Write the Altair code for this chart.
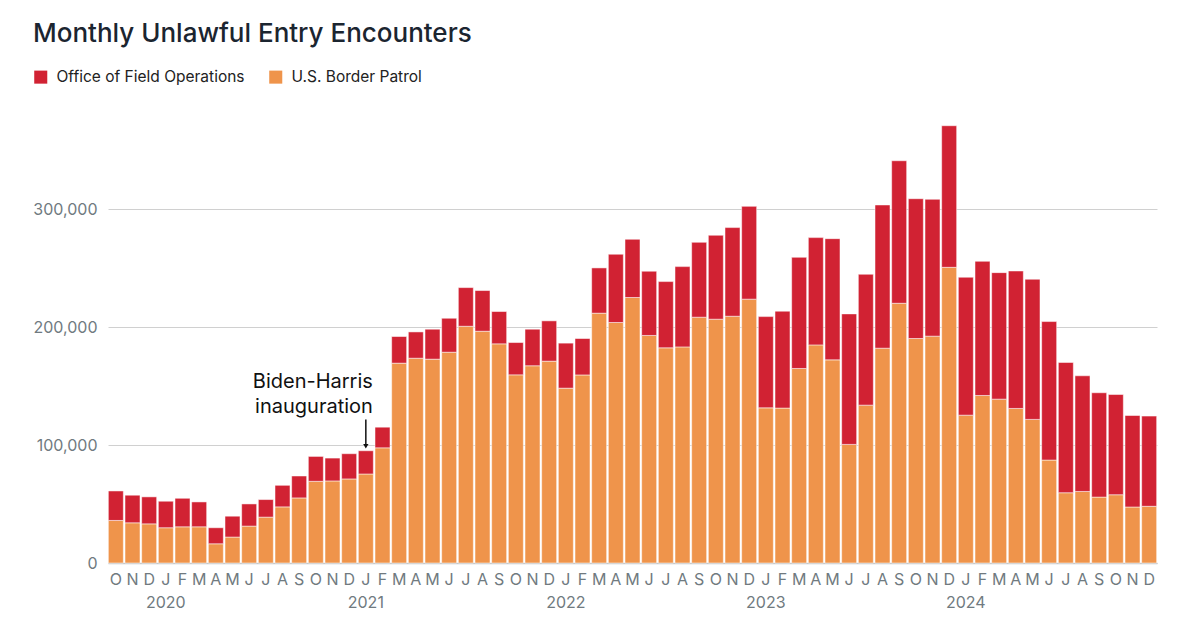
import pandas as pd
import altair as alt

# months Oct 2019 .. Dec 2024
months = [str(p) for p in pd.period_range('2019-10', '2024-12', freq='M')]

border_patrol = [
    36100, 34100, 33200, 29900, 30700, 30700, 16300, 22000, 31300, 38900, 47600, 55200,
    69300, 69600, 71300, 75500, 97700, 169500, 173700, 172900, 178800, 200800, 196600, 185900,
    159600, 167300, 171200, 148300, 159500, 211900, 204000, 225200, 193000, 182500, 183300, 208500,
    206800, 209300, 223800, 131600, 131400, 165000, 185000, 172300, 100600, 133900, 182200, 220300,
    190400, 192400, 250800, 125400, 142100, 139000, 131100, 121800, 87300, 59600, 60700, 55900,
    57900, 47500, 48100,
]
field_ops = [
    25000, 23400, 22900, 22500, 24200, 21100, 13600, 17700, 18800, 14900, 18300, 18600,
    21100, 19400, 21400, 19700, 17500, 22600, 22300, 25400, 28800, 32800, 34500, 27400,
    27400, 31000, 34200, 38200, 30900, 38400, 57900, 49400, 54500, 56200, 68100, 63500,
    71200, 75200, 78700, 77400, 82200, 94300, 91000, 102800, 110700, 111000, 121500, 120900,
    118600, 116100, 120100, 117000, 113800, 107300, 116600, 118900, 117500, 110500, 98100, 88500,
    85000, 77600, 76500,
]

series = ['Office of Field Operations', 'U.S. Border Patrol']
colors = ['#d12233', '#ef944b']

df = pd.concat([
    pd.DataFrame({'month': months, 'value': border_patrol, 'agency': series[1], 'ord': 0}),
    pd.DataFrame({'month': months, 'value': field_ops, 'agency': series[0], 'ord': 1}),
])

note = pd.DataFrame({'month': ['2021-01'], 'text_y': [148600], 'arrow_top': [121800], 'arrow_end': [99000]})

FONT = 'Inter'
GRAY = '#707a80'

month_label = ("[['J','F','M','A','M','J','J','A','S','O','N','D'][toNumber(slice(datum.value,5,7))-1], "
               "slice(datum.value,5,7)=='01' ? slice(datum.value,0,4) : '']")

x = alt.X('month:N', scale=alt.Scale(domain=months, paddingInner=0.1, paddingOuter=0.02),
          axis=alt.Axis(title=None, labelExpr=month_label, labelAngle=0, ticks=False,
                        labelFontSize=16, labelColor=GRAY, labelFont=FONT, labelPadding=8,
                        labelLineHeight=23, domainColor='#c8c8c8', domainWidth=1.5,
                        labelOverlap=False))

bars = alt.Chart(df).mark_bar(stroke='white', strokeWidth=1, strokeOpacity=0.5).encode(
    x=x,
    y=alt.Y('value:Q', stack='zero',
            scale=alt.Scale(domain=[0, 380000], nice=False),
            axis=alt.Axis(title=None, values=[0, 100000, 200000, 300000], format=',.0f',
                          ticks=False, domain=False, labelFontSize=16, labelColor=GRAY,
                          labelFont=FONT, labelPadding=11, gridColor='#d0d0d0')),
    color=alt.Color('agency:N', scale=alt.Scale(domain=series, range=colors),
                    legend=alt.Legend(title=None, orient='none', direction='horizontal',
                                      legendX=-75, legendY=-46, symbolType='square',
                                      symbolSize=170, symbolOpacity=1, symbolStrokeWidth=0,
                                      labelFontSize=15.5, labelFont=FONT, labelColor='#222222',
                                      labelOffset=8, columnPadding=23, labelLimit=400)),
    order=alt.Order('ord:Q'),
)

label = alt.Chart(note).mark_text(align='right', baseline='alphabetic', dx=7, fontSize=20,
                                  font=FONT, lineHeight=25.6, color='#111111').encode(
    x='month:N', y='text_y:Q',
    text=alt.value(['Biden-Harris', 'inauguration']),
)

arrow = alt.Chart(note).mark_rule(color='#111111', strokeWidth=1.5).encode(
    x='month:N', y='arrow_top:Q', y2='arrow_end:Q',
)

head = alt.Chart(note).mark_point(shape='triangle-down', filled=True, size=28,
                                  color='#111111', opacity=1).encode(
    x='month:N', y='arrow_end:Q',
)

chart = alt.layer(bars, arrow, head, label).properties(
    width=1049, height=448,
    autosize=alt.AutoSizeParams(type='none'),
    padding={'left': 100, 'top': 107, 'right': 20, 'bottom': 55},
    title=alt.Title('Monthly Unlawful Entry Encounters', anchor='start', frame='group', dx=-75,
                    fontSize=26, font=FONT, fontWeight=500, color='#1b2530', offset=22),
).configure_view(stroke=None)

chart.save("out.html", embed_options={"renderer": "svg", "actions": False})
